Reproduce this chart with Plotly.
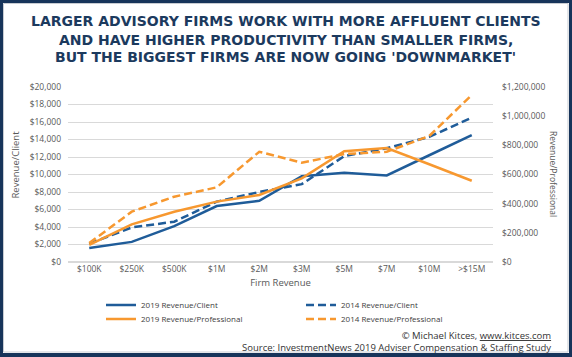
import plotly.graph_objects as go

categories = ["$100K", "$250K", "$500K", "$1M", "$2M", "$3M", "$5M", "$7M", "$10M", ">$15M"]
rev_client_2019 = [1600, 2300, 4100, 6400, 7000, 9800, 10200, 9900, 12200, 14500]
rev_client_2014 = [2100, 3950, 4600, 6900, 8000, 8900, 12100, 13000, 14300, 16500]
rev_prof_2019 = [118000, 258000, 345000, 414000, 460000, 574000, 760000, 782000, 670000, 557000]
rev_prof_2014 = [130000, 345000, 448000, 512000, 756000, 681000, 740000, 756000, 864000, 1145000]
title_lines = [
    "LARGER ADVISORY FIRMS WORK WITH MORE AFFLUENT CLIENTS",
    "AND HAVE HIGHER PRODUCTIVITY THAN SMALLER FIRMS,",
    "BUT THE BIGGEST FIRMS ARE NOW GOING 'DOWNMARKET'",
]

W, H = 572, 357
L, R, T, B = 68, 79, 87, 95
PW, PH = W - L - R, H - T - B

def px(x):
    return (x - L) / PW

def py(y):
    return (H - B - y) / PH

BLUE = "#1f5c99"
ORANGE = "#f7982f"
NAVY = "#17345a"
GRAY = "#595959"
FONT = "Open Sans"
DASH = "8px,4px"

fig = go.Figure()
fig.add_trace(go.Scatter(x=categories, y=rev_client_2019, name="2019 Revenue/Client",
                         mode="lines", line=dict(color=BLUE, width=2.5), legend="legend", showlegend=True))
fig.add_trace(go.Scatter(x=categories, y=rev_client_2014, name="2014 Revenue/Client",
                         mode="lines", line=dict(color=BLUE, width=2.5, dash=DASH), legend="legend2", showlegend=True))
fig.add_trace(go.Scatter(x=categories, y=rev_prof_2019, name="2019 Revenue/Professional",
                         mode="lines", line=dict(color=ORANGE, width=2.5), yaxis="y2", legend="legend3", showlegend=True))
fig.add_trace(go.Scatter(x=categories, y=rev_prof_2014, name="2014 Revenue/Professional",
                         mode="lines", line=dict(color=ORANGE, width=2.5, dash=DASH), yaxis="y2", legend="legend4", showlegend=True))

leg_common = dict(font=dict(family=FONT, size=8, color="#404040"), bgcolor="rgba(0,0,0,0)",
                  xanchor="left", yanchor="middle", orientation="v", visible=True)

shapes = []
for (x0, y0, x1, y1) in [(0, 0, W, 3), (0, 0, 3, H), (569, 0, W, H), (0, 353, W, H)]:
    shapes.append(dict(type="rect", xref="paper", yref="paper",
                       x0=px(x0), x1=px(x1), y0=py(y0), y1=py(y1),
                       fillcolor=NAVY, line=dict(width=0), layer="above"))
shapes.append(dict(type="rect", xref="paper", yref="paper",
                   x0=px(3.5), x1=px(568), y0=py(3.5), y1=py(352),
                   line=dict(color="#c8ccd2", width=1), fillcolor="rgba(0,0,0,0)", layer="below"))

annotations = []
for txt, yc in zip(title_lines, [20.5, 39.5, 57]):
    annotations.append(dict(text=txt, xref="paper", yref="paper", x=px(285.5), y=py(yc),
                            xanchor="center", yanchor="middle", showarrow=False,
                            font=dict(family="DejaVu Sans", size=14, color="#1c3a5e", weight=700)))
annotations += [
    dict(text="Revenue/Client", xref="paper", yref="paper", x=px(15), y=py(164.5),
         xanchor="center", yanchor="middle", textangle=-90, showarrow=False,
         font=dict(family=FONT, size=9.5, color=GRAY)),
    dict(text="Revenue/Professional", xref="paper", yref="paper", x=px(554), y=py(174),
         xanchor="center", yanchor="middle", textangle=90, showarrow=False,
         font=dict(family=FONT, size=8.5, color=GRAY)),
    dict(text="© Michael Kitces, <span style='text-decoration:underline'>www.kitces.com</span>"
              "<br>Source: InvestmentNews 2019 Adviser Compensation & Staffing Study",
         xref="paper", yref="paper", x=px(553), y=py(341.5), xanchor="right", yanchor="middle",
         align="right", showarrow=False, font=dict(family=FONT, size=9.5, color="#333333")),
]

fig.update_layout(
    width=W, height=H,
    margin=dict(l=L, r=R, t=T, b=B),
    showlegend=True,
    paper_bgcolor="white", plot_bgcolor="white",
    font=dict(family=FONT, color=GRAY, size=8.5),
    xaxis=dict(type="category", range=[-0.5, 9.5], showgrid=False, ticks="", showline=False,
               tickfont=dict(size=8.5, color=GRAY),
               title=dict(text="Firm Revenue", font=dict(size=9.5, color=GRAY), standoff=6)),
    yaxis=dict(range=[0, 20000], dtick=2000, tickprefix="$", tickformat=",d",
               gridcolor="#d9d9d9", gridwidth=1, zeroline=True, zerolinecolor="#d9d9d9",
               showline=False, ticks="", ticklabelstandoff=6,
               tickfont=dict(size=8.5, color=GRAY)),
    yaxis2=dict(range=[0, 1200000], dtick=200000, tickprefix="$", tickformat=",d",
                overlaying="y", side="right", showgrid=False, zeroline=False,
                showline=False, ticks="", ticklabelstandoff=8,
                tickfont=dict(size=8.5, color=GRAY)),
    legend=dict(x=px(101), y=py(305), **leg_common),
    legend2=dict(x=px(301), y=py(305), **leg_common),
    legend3=dict(x=px(101), y=py(319), **leg_common),
    legend4=dict(x=px(301), y=py(319), **leg_common),
    shapes=shapes,
    annotations=annotations,
)

fig.write_html("out.html", config={"displayModeBar": False},
               post_script="document.body.style.margin='0';document.body.style.overflow='hidden';")
